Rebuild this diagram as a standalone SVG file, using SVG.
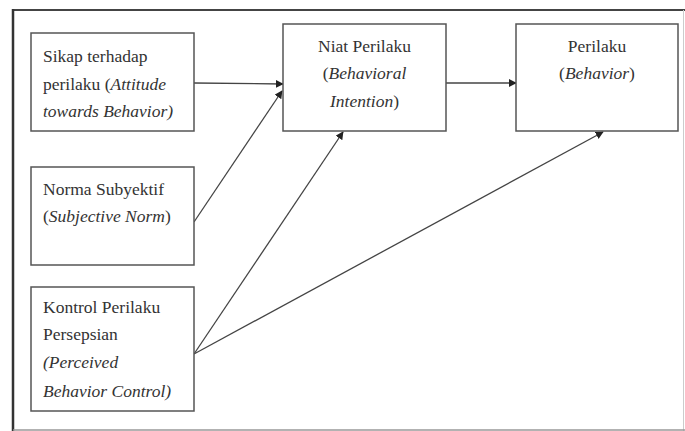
<svg xmlns="http://www.w3.org/2000/svg" width="685" height="431" viewBox="0 0 685 431">
<style>
.box{fill:#fff;stroke:#555;stroke-width:1.5}
.t{font-family:'Liberation Serif','Tinos','Times New Roman','DejaVu Serif',serif;font-size:17.5px;fill:#333}
.i{font-style:italic}
.c{stroke:#444;stroke-width:1.3;fill:none;marker-end:url(#ah)}
</style>
<defs>
<marker id="ah" viewBox="0 0 10 10" refX="9" refY="5" markerWidth="8" markerHeight="8" markerUnits="userSpaceOnUse" orient="auto">
<path d="M0,0 L10,5 L0,10 z" fill="#222"/>
</marker>
</defs>
<rect x="0" y="0" width="685" height="431" fill="#fff"/>
<g id="frame">
<line x1="13" y1="10" x2="685" y2="10" stroke="#444" stroke-width="2"/>
<line x1="13" y1="9" x2="13" y2="431" stroke="#333" stroke-width="2.5"/>
<line x1="683.5" y1="10" x2="683.5" y2="431" stroke="#ccc" stroke-width="1"/>
<line x1="13" y1="430" x2="685" y2="430" stroke="#999" stroke-width="1.5"/>
</g>
<g id="connectors">
<line class="c" x1="194" y1="83" x2="283" y2="84"/>
<line class="c" x1="194" y1="222" x2="282" y2="91"/>
<line class="c" x1="194" y1="354" x2="343" y2="132"/>
<path class="c" d="M194,354 Q260,318 603,132"/>
<line class="c" x1="446" y1="83" x2="516" y2="83"/>
</g>
<g font-family="Liberation Serif, DejaVu Serif, serif">
<g id="sikap">
<rect class="box" x="31" y="33" width="163" height="98"/>
<text class="t" x="43" y="62">Sikap terhadap</text>
<text class="t" x="43" y="90">perilaku (<tspan class="i">Attitude</tspan></text>
<text class="t i" x="43" y="117">towards Behavior)</text>
</g>
<g id="norma">
<rect class="box" x="31" y="167" width="163" height="98"/>
<text class="t" x="43" y="195">Norma Subyektif</text>
<text class="t" x="43" y="222">(<tspan class="i">Subjective Norm</tspan>)</text>
</g>
<g id="kontrol">
<rect class="box" x="31" y="287" width="163" height="124"/>
<text class="t" x="43" y="313">Kontrol Perilaku</text>
<text class="t" x="43" y="340">Persepsian</text>
<text class="t i" x="43" y="368">(Perceived</text>
<text class="t i" x="43" y="397">Behavior Control)</text>
</g>
<g id="niat">
<rect class="box" x="283" y="24" width="163" height="107"/>
<text class="t" x="364.5" y="52" text-anchor="middle">Niat Perilaku</text>
<text class="t" x="364.5" y="79" text-anchor="middle">(<tspan class="i">Behavioral</tspan></text>
<text class="t" x="364.5" y="107" text-anchor="middle"><tspan class="i">Intention</tspan>)</text>
</g>
<g id="perilaku">
<rect class="box" x="516" y="24" width="162" height="107"/>
<text class="t" x="597" y="52" text-anchor="middle">Perilaku</text>
<text class="t" x="597" y="79" text-anchor="middle">(<tspan class="i">Behavior</tspan>)</text>
</g>
</g>
</svg>
